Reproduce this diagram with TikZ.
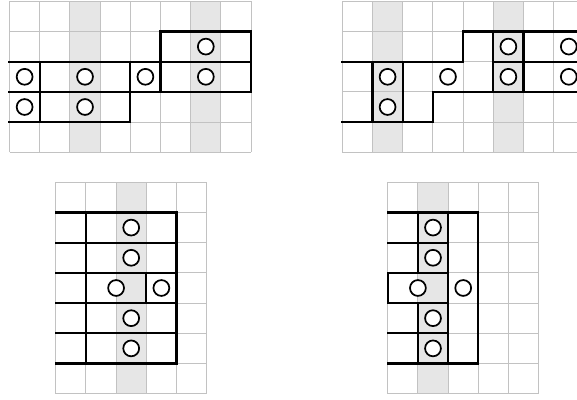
\documentclass[tikz,border=0pt]{standalone}
\usetikzlibrary{positioning}
\definecolor{gridGray}{HTML}{C2C2C2}
\definecolor{colShade}{HTML}{E6E6E6}
\tikzset{
  cellgrid/.style={draw=gridGray,line width=0.8pt},
  tileedge/.style={draw=black,line width=1.7pt,line cap=rect,line join=miter},
  qubit/.style={circle,draw=black,fill=white,line width=1.3pt,minimum size=0.42cm,inner sep=0pt},
  shadecol/.style={fill=colShade}
}
\newcommand{\cellboard}[3]{% cols, rows, shaded columns
  \foreach \c in {#3} \fill[shadecol] (\c,0) rectangle ++(1,#2);
  \foreach \i in {0,...,#1} \draw[cellgrid] (\i,0) -- (\i,#2);
  \foreach \j in {0,...,#2} \draw[cellgrid] (0,\j) -- (#1,\j);
}
\begin{document}
\begin{tikzpicture}[x=0.8cm,y=-0.8cm]
  \useasboundingbox (0,0) rectangle (19.106,13.212);

  % top left board
  \begin{scope}[shift={(0.315,0.043)}]
    \cellboard{8}{5}{2,6}
    \draw[tileedge] (0,2) -- (8,2);
    \draw[tileedge] (0,3) -- (8,3);
    \draw[tileedge] (5,3) -- (5,1) -- (8,1) -- (8,3);
    \draw[tileedge] (0,4) -- (4,4) -- (4,2);
    \draw[tileedge] (1,2) -- (1,4);
    \foreach \p [count=\k] in {{(6.5,1.5)},{(0.5,2.5)},{(2.5,2.5)},{(4.5,2.5)},{(6.5,2.5)},{(0.5,3.5)},{(2.5,3.5)}}
      \node[qubit] (tl-\k) at \p {};
  \end{scope}

  % top right board (cut at the right edge)
  \begin{scope}[shift={(11.334,0.043)}]
    \cellboard{8}{5}{1,5}
    \draw[tileedge] (0,2) -- (4,2) -- (4,1) -- (8,1);
    \draw[tileedge] (5,1) -- (5,3);
    \draw[tileedge] (6,1) -- (6,3);
    \draw[tileedge] (5,2) -- (8,2);
    \draw[tileedge] (8,3) -- (3,3) -- (3,4) -- (0,4);
    \draw[tileedge] (1,2) -- (1,4);
    \draw[tileedge] (2,2) -- (2,4);
    \foreach \p [count=\k] in {{(5.5,1.5)},{(7.5,1.5)},{(1.5,2.5)},{(3.5,2.5)},{(5.5,2.5)},{(7.5,2.5)},{(1.5,3.5)}}
      \node[qubit] (tr-\k) at \p {};
  \end{scope}

  % bottom left board
  \begin{scope}[shift={(1.844,6.036)}]
    \cellboard{5}{7}{2}
    \foreach \j in {1,...,6} \draw[tileedge] (0,\j) -- (4,\j);
    \draw[tileedge] (1,1) -- (1,6);
    \draw[tileedge] (4,1) -- (4,6);
    \draw[tileedge] (3,3) -- (3,4);
    \foreach \p [count=\k] in {{(2.5,1.5)},{(2.5,2.5)},{(2,3.5)},{(3.5,3.5)},{(2.5,4.5)},{(2.5,5.5)}}
      \node[qubit] (bl-\k) at \p {};
  \end{scope}

  % bottom right board
  \begin{scope}[shift={(12.838,6.036)}]
    \cellboard{5}{7}{1}
    \draw[tileedge] (0,1) -- (3,1) -- (3,6) -- (0,6);
    \foreach \j in {2,...,5} \draw[tileedge] (0,\j) -- (2,\j);
    \draw[tileedge] (0,3) -- (0,4);
    \draw[tileedge] (1,1) -- (1,3);
    \draw[tileedge] (1,4) -- (1,6);
    \draw[tileedge] (2,1) -- (2,6);
    \foreach \p [count=\k] in {{(1.5,1.5)},{(1.5,2.5)},{(1,3.5)},{(2.5,3.5)},{(1.5,4.5)},{(1.5,5.5)}}
      \node[qubit] (br-\k) at \p {};
  \end{scope}
\end{tikzpicture}
\end{document}
